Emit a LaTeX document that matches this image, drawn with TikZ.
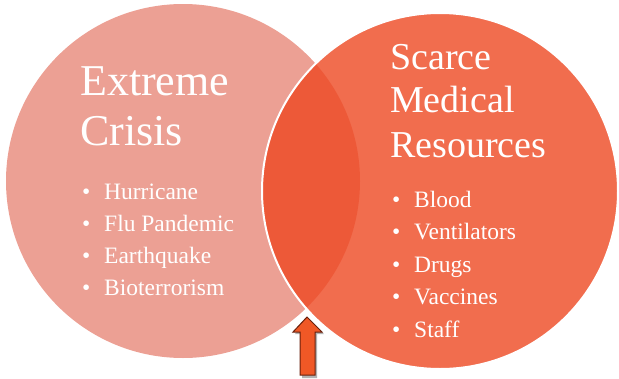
\documentclass[tikz,border=0pt]{standalone}
\usepackage{fontspec}
\setmainfont{Liberation Serif}
\usetikzlibrary{positioning}
\definecolor{crisisfill}{RGB}{236,160,148}
\definecolor{resfill}{RGB}{238,72,34}
\definecolor{arrowfill}{RGB}{240,88,38}
\definecolor{arrowline}{RGB}{105,32,12}

\begin{document}
\begin{tikzpicture}[x=1pt,y=-1pt,
		crisistitle/.style={text=white,font=\fontsize{44}{50}\selectfont,anchor=base west,inner sep=0pt},
		restitle/.style={text=white,font=\fontsize{38}{44}\selectfont,anchor=base west,inner sep=0pt},
		item/.style={text=white,font=\fontsize{23.5}{26}\selectfont,anchor=base west,inner sep=0pt}]
		\useasboundingbox (0,0) rectangle (619,378);
		% the two sets
		\fill[crisisfill] (183,181) circle (177pt);
		\fill[resfill,opacity=0.8] (440,191) circle (178pt);
		\draw[white,line width=2pt] (440,191) circle (178pt);
		% left set
		\draw (80,95) node[crisistitle] (crisisA) {Extreme};
		\draw (80,145) node[crisistitle] (crisisB) {Crisis};
		\foreach \txt [count=\i] in {Hurricane,Flu Pandemic,Earthquake,Bioterrorism}
			\draw (82,167+32*\i) node[item] (crisisbul\i) {\textbullet}
				(104,167+32*\i) node[item] (crisisitem\i) {\txt};
		% right set
		\draw (390,69) node[restitle] (resA) {Scarce};
		\draw (390,112) node[restitle] (resB) {Medical};
		\draw (390,157) node[restitle] (resC) {Resources};
		\foreach \txt [count=\i] in {Blood,Ventilators,Drugs,Vaccines,Staff}
			\draw (392,174.5+32.5*\i) node[item] (resbul\i) {\textbullet}
				(414,174.5+32.5*\i) node[item] (resitem\i) {\txt};
		% arrow into the overlap
		\fill[black!60,opacity=0.5] (309,319) -- (324,334) -- (317,334) -- (317,378) -- (302,378) -- (302,334) -- (295,334) -- cycle;
		\draw[arrowline,fill=arrowfill,line width=1pt,line join=miter] (307,317) -- (322,332) -- (315,332) -- (315,375) -- (300,375) -- (300,332) -- (293,332) -- cycle;
\end{tikzpicture}
\end{document}
